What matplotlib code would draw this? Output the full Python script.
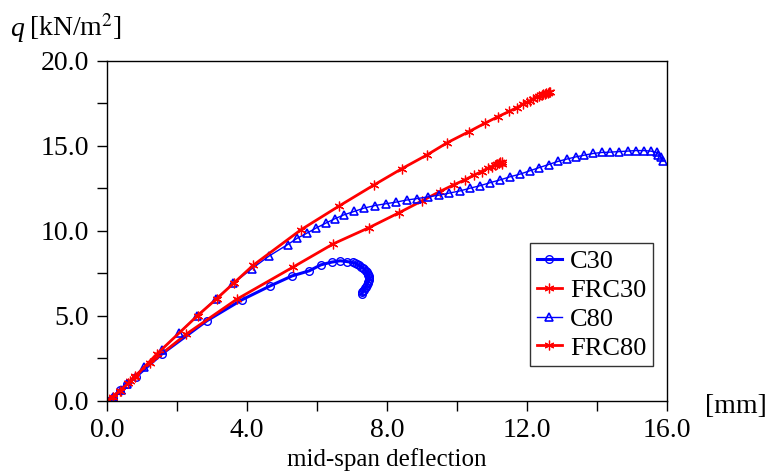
import matplotlib
matplotlib.use("Agg")
import matplotlib.pyplot as plt
from matplotlib.ticker import MultipleLocator, FormatStrFormatter

# mid-span deflection [mm] and load q [kN/m2]
c30_x = [0.0, 0.16, 0.37, 0.56, 0.83, 1.56, 2.85, 3.85, 4.66, 5.29, 5.78, 6.11, 6.42,
         6.66, 6.87, 7.02, 7.10, 7.15, 7.21, 7.26, 7.31, 7.35, 7.39, 7.42, 7.45, 7.47,
         7.48, 7.49, 7.48, 7.47, 7.45, 7.42, 7.40, 7.37, 7.34, 7.32, 7.30, 7.28]
c30_y = [0.0, 0.19, 0.65, 0.98, 1.43, 2.75, 4.71, 5.94, 6.76, 7.35, 7.65, 8.00, 8.16,
         8.24, 8.19, 8.14, 8.09, 8.04, 7.97, 7.90, 7.83, 7.75, 7.66, 7.57, 7.49, 7.41,
         7.32, 7.22, 7.12, 7.02, 6.92, 6.82, 6.72, 6.63, 6.55, 6.47, 6.38, 6.29]

frc30_x = [0.0, 0.18, 0.39, 0.66, 0.80, 1.23, 2.26, 3.71, 5.31, 6.47, 7.49, 8.34, 8.99,
           9.51, 9.91, 10.23, 10.49, 10.71, 10.89, 11.00, 11.09, 11.15, 11.20, 11.24,
           11.28, 11.30]
frc30_y = [0.0, 0.16, 0.61, 1.18, 1.47, 2.22, 3.92, 5.98, 7.86, 9.24, 10.19, 11.06, 11.75,
           12.31, 12.71, 13.00, 13.28, 13.49, 13.69, 13.78, 13.88, 13.92, 13.98, 14.02,
           14.06, 13.95]

c80_x = [0.0, 0.18, 0.39, 0.56, 1.07, 1.56, 2.07, 2.58, 3.11, 3.61, 4.13, 4.64, 5.16,
         5.44, 5.71, 5.97, 6.25, 6.52, 6.77, 7.06, 7.35, 7.66, 7.96, 8.26, 8.56, 8.87,
         9.18, 9.49, 9.78, 10.09, 10.38, 10.67, 10.96, 11.24, 11.52, 11.81, 12.08, 12.34,
         12.62, 12.88, 13.14, 13.40, 13.64, 13.89, 14.14, 14.39, 14.64, 14.88, 15.11,
         15.34, 15.54, 15.71, 15.76, 15.82, 15.89]
c80_y = [0.0, 0.25, 0.65, 0.98, 2.02, 3.00, 4.02, 5.02, 6.00, 6.92, 7.76, 8.53, 9.19,
         9.57, 9.86, 10.16, 10.45, 10.72, 10.94, 11.14, 11.34, 11.49, 11.59, 11.69, 11.81,
         11.90, 12.00, 12.10, 12.22, 12.35, 12.51, 12.66, 12.84, 13.00, 13.18, 13.34,
         13.53, 13.71, 13.90, 14.08, 14.22, 14.35, 14.45, 14.55, 14.61, 14.63, 14.66,
         14.69, 14.72, 14.72, 14.69, 14.61, 14.47, 14.34, 14.12]

frc80_x = [0.0, 0.16, 0.37, 0.61, 0.80, 1.42, 2.59, 3.13, 3.64, 4.18, 5.54, 6.64, 7.64,
           8.43, 9.15, 9.72, 10.35, 10.81, 11.18, 11.49, 11.72, 11.89, 12.00, 12.09,
           12.18, 12.28, 12.36, 12.42, 12.47, 12.52, 12.56, 12.60, 12.63, 12.66]
frc80_y = [0.0, 0.25, 0.61, 1.04, 1.43, 2.75, 5.02, 6.00, 6.96, 7.98, 10.06, 11.47, 12.71,
           13.66, 14.47, 15.18, 15.84, 16.34, 16.72, 17.02, 17.25, 17.45, 17.55, 17.65,
           17.76, 17.86, 17.93, 17.98, 18.02, 18.06, 18.09, 18.12, 18.14, 18.16]

plt.rcParams["font.family"] = ["Liberation Serif", "DejaVu Serif"]
plt.rcParams["mathtext.fontset"] = "stix"
plt.rcParams["font.size"] = 18

fig = plt.figure(figsize=(7.7, 4.75), dpi=100)
ax = fig.add_axes([0.139, 0.156, 0.727, 0.716])

star = (6, 2, 0)
ax.plot(c30_x, c30_y, color="blue", lw=2.2, marker="o", ms=5.5, mfc="none",
        mec="blue", mew=1.0, label="C30")
ax.plot(frc30_x, frc30_y, color="red", lw=2.0, marker=star, ms=7, mec="red",
        mew=0.9, label="FRC30")
ax.plot(c80_x, c80_y, color="blue", lw=1.0, marker="^", ms=6, mfc="none",
        mec="blue", mew=1.2, label="C80")
ax.plot(frc80_x, frc80_y, color="red", lw=2.0, marker=star, ms=7, mec="red",
        mew=0.9, label="FRC80")

ax.set_xlim(0, 16)
ax.set_ylim(0, 20)
ax.xaxis.set_major_locator(MultipleLocator(4))
ax.xaxis.set_minor_locator(MultipleLocator(2))
ax.yaxis.set_major_locator(MultipleLocator(5))
ax.yaxis.set_minor_locator(MultipleLocator(2.5))
ax.xaxis.set_major_formatter(FormatStrFormatter("%.1f"))
ax.yaxis.set_major_formatter(FormatStrFormatter("%.1f"))
ax.tick_params(which="both", direction="out", length=7, width=1, color="black",
               labelsize=20)
ax.tick_params(axis="x", pad=5)
ax.tick_params(axis="y", pad=6)

for sp in ax.spines.values():
    sp.set_linewidth(1.0)

fig.text(0.013, 0.925, "q", fontsize=20, fontstyle="italic")
fig.text(0.038, 0.925, r"[kN/m$^2$]", fontsize=20)
fig.text(0.915, 0.13, "[mm]", fontsize=20)
ax.set_xlabel("mid-span deflection", fontsize=18, labelpad=4)

leg = ax.legend(loc="lower right", bbox_to_anchor=(0.975, 0.102), frameon=True,
                fancybox=False, edgecolor="black", fontsize=19, handlelength=0.95,
                handletextpad=0.3, borderpad=0.25, labelspacing=0.2,
                borderaxespad=0.0)
leg.get_frame().set_linewidth(1.0)

fig.savefig("out.png", dpi=100)
